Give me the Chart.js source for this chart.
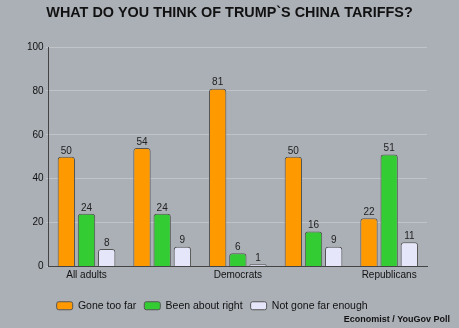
<!DOCTYPE html>
<html>
<head>
<meta charset="utf-8">
<script src="https://cdn.jsdelivr.net/npm/chart.js@4"></script>
<style>
  html, body { margin: 0; padding: 0; background: #abb0b7; }
  #wrap { width: 459px; height: 328px; position: relative; }
</style>
</head>
<body>
<div id="wrap"><canvas id="tariffChart"></canvas></div>
<script>
// Economist / YouGov - views on China tariffs, by group
const groups = ['All adults', 'Registered voters', 'Democrats', 'Independents', 'Republicans'];
const goneTooFar = [50, 54, 81, 50, 22];
const aboutRight = [24, 24, 6, 16, 51];
const notFarEnough = [8, 9, 1, 9, 11];
const yTicks = [0, 20, 40, 60, 80, 100];

const FONT = 'Liberation Sans, Arial, Helvetica, sans-serif';

// draws value above each bar
const barValues = {
    id: 'barValues',
    afterDatasetsDraw(chart) {
        const ctx = chart.ctx;
        ctx.save();
        ctx.font = '10px ' + FONT;
        ctx.fillStyle = '#222';
        ctx.textAlign = 'center';
        ctx.textBaseline = 'bottom';
        chart.data.datasets.forEach((ds, i) => {
            chart.getDatasetMeta(i).data.forEach((bar, j) => {
                ctx.fillText(ds.data[j], bar.x, bar.y - 1);
            });
        });
        ctx.restore();
    }
};

// title centred on the whole canvas + source note bottom right
const headerFooter = {
    id: 'headerFooter',
    afterDraw(chart) {
        const ctx = chart.ctx;
        ctx.save();
        ctx.fillStyle = '#111';
        ctx.textBaseline = 'middle';
        ctx.font = 'bold 14.4px ' + FONT;
        ctx.textAlign = 'center';
        ctx.fillText('WHAT DO YOU THINK OF TRUMP`S CHINA TARIFFS?', chart.width / 2, 13);
        ctx.font = 'bold 9px ' + FONT;
        ctx.textAlign = 'right';
        ctx.fillText('Economist / YouGov Poll', 450, 320);
        ctx.restore();
    }
};

const barStyle = {
    borderColor: '#555',
    borderWidth: 1,
    borderRadius: { topLeft: 3, topRight: 3 },
    borderSkipped: 'bottom',
    barPercentage: 0.86,
    categoryPercentage: 0.8
};

new Chart(document.getElementById('tariffChart'), {
    type: 'bar',
    data: {
        labels: groups,
        datasets: [
            Object.assign({ label: 'Gone too far', data: goneTooFar, backgroundColor: '#ff9900' }, barStyle),
            Object.assign({ label: 'Been about right', data: aboutRight, backgroundColor: '#33cc33' }, barStyle),
            Object.assign({ label: 'Not gone far enough', data: notFarEnough, backgroundColor: '#e6e6fa' }, barStyle)
        ]
    },
    options: {
        responsive: true,
        maintainAspectRatio: false,
        animation: false,
        layout: { padding: { top: 47, right: 32, left: 25, bottom: 7 } },
        plugins: {
            title: { display: false },
            legend: {
                position: 'bottom',
                align: 'start',
                fullSize: false,
                labels: {
                    color: '#111',
                    font: { family: FONT, size: 10.5 },
                    boxWidth: 16,
                    boxHeight: 8,
                    useBorderRadius: true,
                    borderRadius: 2,
                    padding: 8
                }
            },
            tooltip: { enabled: false }
        },
        scales: {
            x: {
                grid: { display: false, drawTicks: false },
                border: { color: '#444' },
                afterFit: function (axis) {
                    axis.height += 8;
                },
                ticks: {
                    color: '#111',
                    font: { family: FONT, size: 10 },
                    autoSkip: false,
                    maxRotation: 0,
                    padding: 3,
                    callback: function (value, index) {
                        return index % 2 === 0 ? groups[index] : '';
                    }
                }
            },
            y: {
                min: 0,
                max: 100,
                afterBuildTicks: function (axis) {
                    axis.ticks = yTicks.map(v => ({ value: v }));
                },
                grid: { color: 'rgba(255,255,255,0.25)', tickLength: 3 },
                border: { color: '#444' },
                ticks: {
                    color: '#111',
                    font: { family: FONT, size: 10 },
                    padding: 2
                }
            }
        }
    },
    plugins: [barValues, headerFooter]
});
</script>
</body>
</html>
